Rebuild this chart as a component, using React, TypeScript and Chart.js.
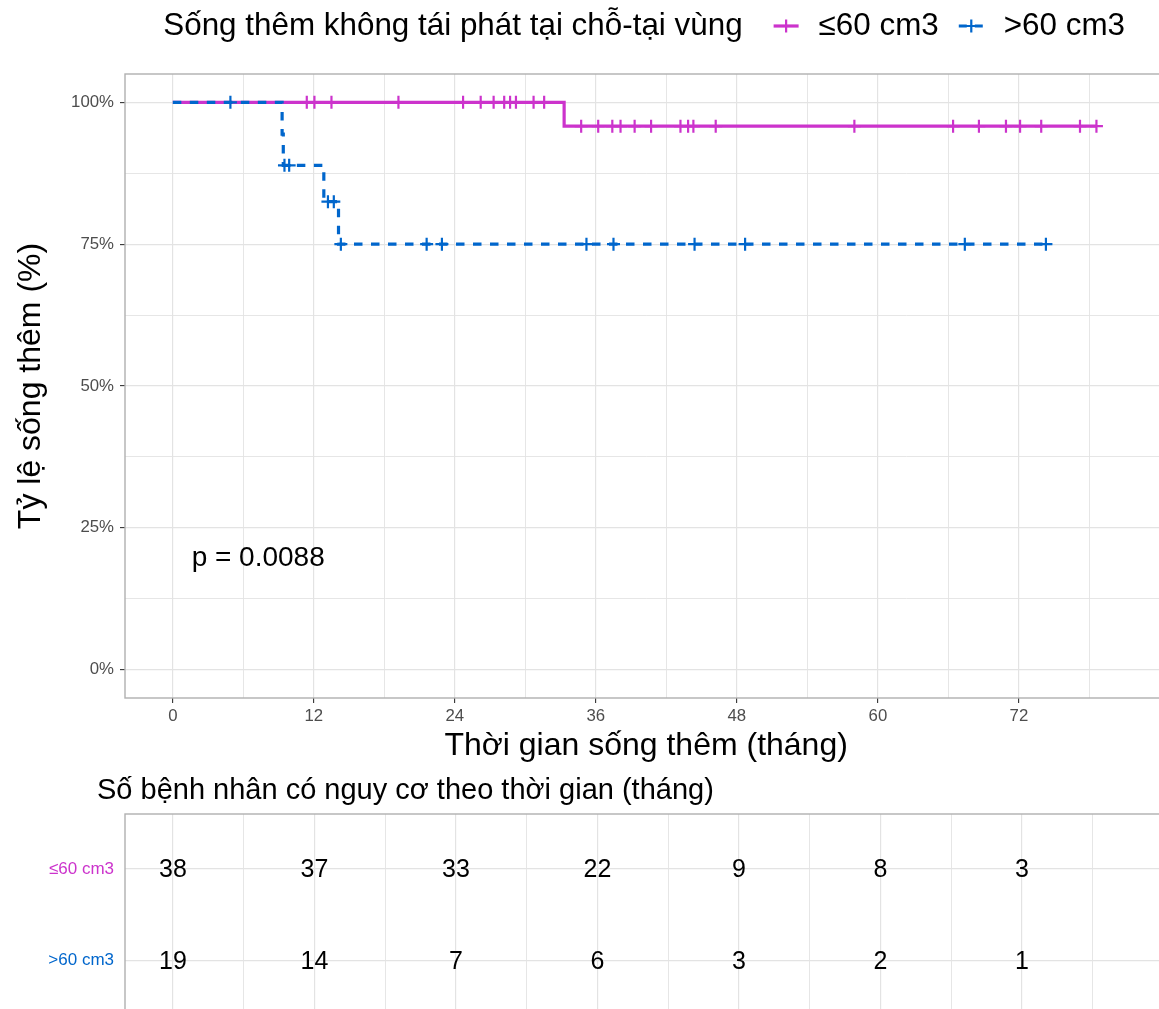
import React, { useEffect, useRef } from 'react';
import { Chart, registerables } from 'chart.js';

Chart.register(...registerables);

const FONT = '"Liberation Sans", Arial, Helvetica, sans-serif';
const COLOR_LOW = '#CC33CC';
const COLOR_HIGH = '#0066CC';
const GRID = '#e3e3e3';
const BORDER = '#b0b0b0';

// ---- data ----
const GROUPS = ['≤60 cm3', '>60 cm3'];
const LEGEND_TITLE = 'Sống thêm không tái phát tại chỗ-tại vùng';
const X_TITLE = 'Thời gian sống thêm (tháng)';
const Y_TITLE = 'Tỷ lệ sống thêm (%)';
const TABLE_TITLE = 'Số bệnh nhân có nguy cơ theo thời gian (tháng)';
const P_TEXT = 'p = 0.0088';
const P_POS = [1.6, 19.6];

// Kaplan-Meier steps (months, survival %)
const lowTimes = [0, 33.3, 78.6];
const lowSurv = [100, 95.8, 95.8];
const highTimes = [0, 9.3, 9.4, 12.85, 14.1, 74.3];
const highSurv = [100, 94.4, 88.9, 82.5, 75.0, 75.0];

// censoring times
const lowCensor = [11.4, 12.05, 13.5, 19.2, 24.7, 26.2, 27.3, 28.2, 28.7, 29.2, 30.7, 31.6,
  34.75, 36.2, 37.4, 38.1, 39.3, 40.7, 43.2, 43.85, 44.3, 46.2, 58.0, 66.4, 68.6, 70.9, 72.1,
  73.9, 77.2, 78.6];
const highCensor = [4.9, 9.5, 9.9, 13.2, 13.7, 14.3, 21.6, 22.9, 35.2, 37.5, 44.4, 48.7, 67.4, 74.3];

// axes
const X_MIN = -4.07;
const X_MAX = 84.63;
const xTicks = [0, 6, 12, 18, 24, 30, 36, 42, 48, 54, 60, 66, 72, 78];
const xMajor = [0, 12, 24, 36, 48, 60, 72];
const Y_MIN = -5;
const Y_MAX = 105;
const yTicks = [0, 12.5, 25, 37.5, 50, 62.5, 75, 87.5, 100];
const yMajor = [0, 25, 50, 75, 100];

// risk table
const riskTimes = [0, 12, 24, 36, 48, 60, 72];
const riskLow = [38, 37, 33, 22, 9, 8, 3];
const riskHigh = [19, 14, 7, 6, 3, 2, 1];

// font sizes
const F_TITLE = 32;
const F_LEGEND = 31.4;
const F_TICK = 16.8;
const F_P = 28;
const F_TABLE_TITLE = 29;
const F_TABLE_NUM = 25;
const F_TABLE_LAB = 17;

function survAt(times: number[], surv: number[], t: number) {
  let s = surv[0];
  for (let i = 0; i < times.length; i++) if (times[i] <= t) s = surv[i];
  return s;
}

const majorOf = (arr: number[]) => (ctx: any) => !!(ctx && ctx.tick && arr.includes(ctx.tick.value));

const panelBorder = {
  id: 'panelBorder',
  afterDatasetsDraw(chart: any) {
    const { ctx, chartArea } = chart;
    ctx.save();
    ctx.strokeStyle = BORDER;
    ctx.lineWidth = 1.4;
    ctx.strokeRect(chartArea.left, chartArea.top, chartArea.right - chartArea.left, chartArea.bottom - chartArea.top);
    ctx.restore();
  },
};

function drawKey(ctx: CanvasRenderingContext2D, x: number, y: number, w: number, color: string, dash: number[]) {
  ctx.save();
  ctx.strokeStyle = color;
  ctx.lineWidth = 3.2;
  ctx.setLineDash(dash);
  ctx.beginPath();
  ctx.moveTo(x, y);
  ctx.lineTo(x + w, y);
  ctx.stroke();
  ctx.setLineDash([]);
  ctx.lineWidth = 2.2;
  const cx = x + w / 2;
  ctx.beginPath();
  ctx.moveTo(cx - 6.5, y);
  ctx.lineTo(cx + 6.5, y);
  ctx.moveTo(cx, y - 6.5);
  ctx.lineTo(cx, y + 6.5);
  ctx.stroke();
  ctx.restore();
}

const legendPlugin = {
  id: 'kmLegend',
  afterDraw(chart: any) {
    const { ctx, chartArea } = chart;
    ctx.save();
    ctx.font = `${F_LEGEND}px ${FONT}`;
    ctx.fillStyle = '#000';
    ctx.textBaseline = 'middle';
    ctx.textAlign = 'left';
    const wT = ctx.measureText(LEGEND_TITLE).width;
    const w1 = ctx.measureText(GROUPS[0]).width;
    const w2 = ctx.measureText(GROUPS[1]).width;
    const KEY = 25, G_TK = 31, G_KL = 20, G_LK = 20;
    const total = wT + G_TK + KEY + G_KL + w1 + G_LK + KEY + G_KL + w2;
    let x = (chartArea.left + chartArea.right) / 2 - total / 2 - 2;
    const y = 26;
    ctx.fillText(LEGEND_TITLE, x, y);
    x += wT + G_TK;
    drawKey(ctx, x, y, KEY, COLOR_LOW, []);
    x += KEY + G_KL;
    ctx.fillText(GROUPS[0], x, y);
    x += w1 + G_LK;
    drawKey(ctx, x, y, KEY, COLOR_HIGH, [8, 8]);
    x += KEY + G_KL;
    ctx.fillText(GROUPS[1], x, y);
    ctx.restore();
  },
};

const pValuePlugin = {
  id: 'pValue',
  afterDatasetsDraw(chart: any) {
    const { ctx, scales } = chart;
    ctx.save();
    ctx.font = `${F_P}px ${FONT}`;
    ctx.fillStyle = '#000';
    ctx.textAlign = 'left';
    ctx.textBaseline = 'middle';
    ctx.fillText(P_TEXT, scales.x.getPixelForValue(P_POS[0]), scales.y.getPixelForValue(P_POS[1]));
    ctx.restore();
  },
};

const riskTextPlugin = {
  id: 'riskText',
  afterDatasetsDraw(chart: any) {
    const { ctx, chartArea } = chart;
    ctx.save();
    ctx.font = `${F_TABLE_NUM}px ${FONT}`;
    ctx.fillStyle = '#000';
    ctx.textAlign = 'center';
    ctx.textBaseline = 'middle';
    const vals = [riskLow, riskHigh];
    vals.forEach((arr, i) => {
      const meta = chart.getDatasetMeta(i);
      meta.data.forEach((el: any, j: number) => {
        ctx.fillText(String(arr[j]), el.x, el.y + 1.5);
      });
    });
    ctx.font = `${F_TABLE_TITLE}px ${FONT}`;
    ctx.textAlign = 'left';
    ctx.textBaseline = 'alphabetic';
    ctx.fillText(TABLE_TITLE, chartArea.left - 28, 29);
    ctx.restore();
  },
};

const xGrid = {
  color: GRID,
  lineWidth: (ctx: any) => (majorOf(xMajor)(ctx) ? 1.2 : 0.9),
  tickLength: 5,
  tickWidth: 1.1,
  tickColor: (ctx: any) => (majorOf(xMajor)(ctx) ? '#333333' : 'rgba(0,0,0,0)'),
};

export default function App() {
  const ref1 = useRef<HTMLCanvasElement | null>(null);
  const ref2 = useRef<HTMLCanvasElement | null>(null);

  useEffect(() => {
    if (!ref1.current || !ref2.current) return;

    const lineData = (times: number[], surv: number[]) => times.map((t, i) => ({ x: t, y: surv[i] }));
    const censorData = (cens: number[], times: number[], surv: number[]) =>
      cens.map((t) => ({ x: t, y: survAt(times, surv, t) }));

    const chart1 = new Chart(ref1.current, {
      type: 'scatter',
      data: {
        datasets: [
          {
            label: GROUPS[0],
            data: lineData(lowTimes, lowSurv),
            showLine: true,
            stepped: 'before',
            borderColor: COLOR_LOW,
            backgroundColor: COLOR_LOW,
            borderWidth: 3.2,
            pointRadius: 0,
            order: 4,
          },
          {
            label: GROUPS[0] + ' censor',
            data: censorData(lowCensor, lowTimes, lowSurv),
            pointStyle: 'cross',
            pointRadius: 6.5,
            borderWidth: 2.2,
            borderColor: COLOR_LOW,
            backgroundColor: COLOR_LOW,
            order: 3,
          },
          {
            label: GROUPS[1],
            data: lineData(highTimes, highSurv),
            showLine: true,
            stepped: 'before',
            borderColor: COLOR_HIGH,
            backgroundColor: COLOR_HIGH,
            borderWidth: 3.2,
            borderDash: [8.5, 8.5],
            borderCapStyle: 'butt',
            pointRadius: 0,
            order: 2,
          },
          {
            label: GROUPS[1] + ' censor',
            data: censorData(highCensor, highTimes, highSurv),
            pointStyle: 'cross',
            pointRadius: 6.5,
            borderWidth: 2.2,
            borderColor: COLOR_HIGH,
            backgroundColor: COLOR_HIGH,
            order: 1,
          },
        ],
      } as any,
      options: {
        responsive: false,
        animation: false,
        events: [],
        layout: { padding: { top: 74, left: 0, right: 5, bottom: 0 } },
        plugins: { legend: { display: false }, tooltip: { enabled: false }, title: { display: false } },
        scales: {
          x: {
            type: 'linear',
            min: X_MIN,
            max: X_MAX,
            afterBuildTicks: (s: any) => { s.ticks = xTicks.map((v) => ({ value: v })); },
            afterFit: (s: any) => { s.height = 72; },
            ticks: {
              autoSkip: false,
              maxRotation: 0,
              padding: 3,
              color: '#4d4d4d',
              font: { family: FONT, size: F_TICK },
              callback: (v: any) => (xMajor.includes(Number(v)) ? String(v) : ''),
            },
            grid: xGrid as any,
            border: { display: false },
            title: {
              display: true,
              text: X_TITLE,
              color: '#000',
              font: { family: FONT, size: F_TITLE },
              padding: { top: 0, bottom: 5 },
            },
          },
          y: {
            type: 'linear',
            min: Y_MIN,
            max: Y_MAX,
            afterBuildTicks: (s: any) => { s.ticks = yTicks.map((v) => ({ value: v })); },
            afterFit: (s: any) => { s.width = 125; },
            ticks: {
              autoSkip: false,
              padding: 6,
              color: '#4d4d4d',
              font: { family: FONT, size: F_TICK },
              callback: (v: any) => (yMajor.includes(Number(v)) ? `${v}%` : ''),
            },
            grid: {
              color: GRID,
              lineWidth: (ctx: any) => (majorOf(yMajor)(ctx) ? 1.2 : 0.9),
              tickLength: 5,
              tickWidth: 1.1,
              tickColor: (ctx: any) => (majorOf(yMajor)(ctx) ? '#333333' : 'rgba(0,0,0,0)'),
            } as any,
            border: { display: false },
            title: {
              display: true,
              text: Y_TITLE,
              color: '#000',
              font: { family: FONT, size: F_TITLE },
              padding: { top: 12, bottom: 0 },
            },
          },
        },
      } as any,
      plugins: [panelBorder, legendPlugin, pValuePlugin],
    });

    const chart2 = new Chart(ref2.current, {
      type: 'scatter',
      data: {
        datasets: [
          { label: GROUPS[0], data: riskTimes.map((t) => ({ x: t, y: 1 })), pointRadius: 0 },
          { label: GROUPS[1], data: riskTimes.map((t) => ({ x: t, y: 2 })), pointRadius: 0 },
        ],
      } as any,
      options: {
        responsive: false,
        animation: false,
        events: [],
        layout: { padding: { top: 44, left: 0, right: 5, bottom: 0 } },
        plugins: { legend: { display: false }, tooltip: { enabled: false }, title: { display: false } },
        scales: {
          x: {
            type: 'linear',
            min: X_MIN,
            max: X_MAX,
            afterBuildTicks: (s: any) => { s.ticks = xTicks.map((v) => ({ value: v })); },
            afterFit: (s: any) => { s.height = 0; s.paddingLeft = 0; s.paddingRight = 0; },
            ticks: { display: false },
            grid: {
              color: GRID,
              lineWidth: (ctx: any) => (majorOf(xMajor)(ctx) ? 1.2 : 0.9),
              drawTicks: false,
            } as any,
            border: { display: false },
          },
          y: {
            type: 'linear',
            min: 0.4,
            max: 2.6,
            reverse: true,
            afterBuildTicks: (s: any) => { s.ticks = [1, 2].map((v) => ({ value: v })); },
            afterFit: (s: any) => { s.width = 125; s.paddingTop = 0; s.paddingBottom = 0; },
            ticks: {
              autoSkip: false,
              padding: 11,
              font: { family: FONT, size: F_TABLE_LAB },
              color: (ctx: any) => (ctx.tick && ctx.tick.value === 1 ? COLOR_LOW : COLOR_HIGH),
              callback: (v: any) => GROUPS[Number(v) - 1] ?? '',
            } as any,
            grid: { color: GRID, lineWidth: 1.2, drawTicks: false } as any,
            border: { display: false },
          },
        },
      } as any,
      plugins: [panelBorder, riskTextPlugin],
    });

    return () => {
      chart1.destroy();
      chart2.destroy();
    };
  }, []);

  return (
    <div style={{ position: 'absolute', left: 0, top: 0, width: 1159, height: 1009, overflow: 'hidden', background: '#fff' }}>
      <canvas ref={ref1} width={1176} height={770} style={{ position: 'absolute', left: 0, top: 0 }} />
      <canvas ref={ref2} width={1176} height={245} style={{ position: 'absolute', left: 0, top: 770 }} />
    </div>
  );
}
